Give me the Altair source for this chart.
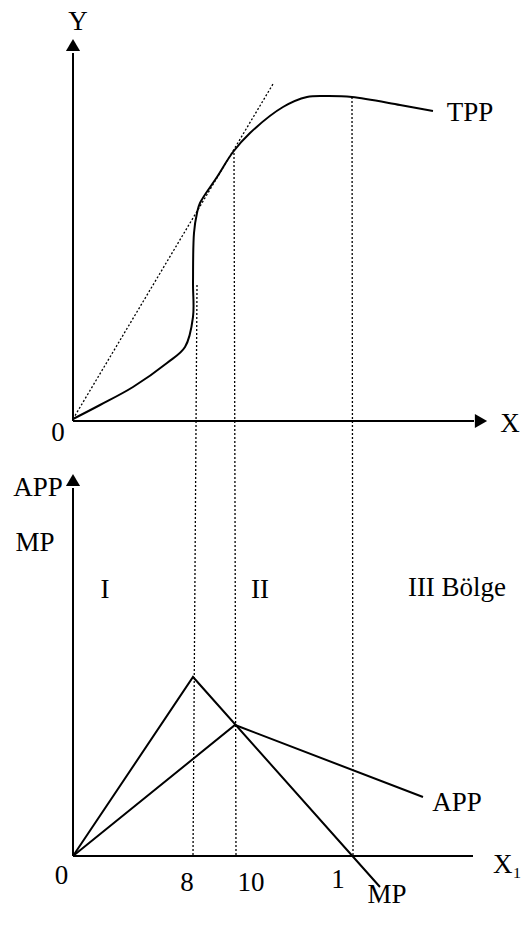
import altair as alt
import pandas as pd

FONT = "Times New Roman, Liberation Serif, serif"
FS = 27

# ---------- data (units: 1 unit = 10 px of the drawing) ----------
# top panel: TPP curve
tpp_x = [0, 2.7, 6.0, 9.4, 11.2, 12.0, 12.0, 12.1, 12.4, 12.7, 14.4, 16.0, 17.7, 21.0, 23.4, 25.4, 27.9, 32.7, 36.0]
tpp_y = [0.2, 1.6, 3.4, 5.8, 7.4, 10.4, 13.8, 18.8, 20.8, 21.8, 24.4, 26.9, 28.8, 31.4, 32.4, 32.5, 32.4, 31.6, 31.0]
# tangent ray from origin
ray_x = [0, 20.0]
ray_y = [0.2, 33.7]
# bottom panel: MP and APP
mp_x = [0, 12.0, 30.7]
mp_y = [0, 17.9, -3.1]
app_x = [0, 16.2, 35.0]
app_y = [0, 13.1, 5.9]
# dotted region boundaries (top point in TPP panel, bottom point on lower axis)
v_xtop = [12.4, 16.1, 27.9]
v_ytop = [13.6, 26.8, 32.4]
v_xbot = [12.0, 16.3, 28.0]
# tick labels of lower panel
tick_lbl = ["8", "10", "1"]
tick_x = [11.4, 17.8, 26.5]
tick_y = [-2.7, -2.7, -2.4]

PANEL_OFF = -43.5  # vertical offset of the lower panel

TOP = 10
W, H = 514, 895
xs = alt.Scale(domain=[-6.5, 44.9], nice=False, zero=False)
ys = alt.Scale(domain=[(421 - 8 - TOP - H) / 10, (421 - 8 - TOP) / 10], nice=False, zero=False)


def X(f="x"):
    return alt.X(f"{f}:Q", scale=xs, axis=None)


def Y(f="y"):
    return alt.Y(f"{f}:Q", scale=ys, axis=None)


layers = []

# TPP curve
tpp_df = pd.DataFrame({"x": tpp_x, "y": tpp_y, "i": range(len(tpp_x))})
layers.append(alt.Chart(tpp_df).mark_line(color="black", strokeWidth=2, interpolate="catmull-rom").encode(
    x=X(), y=Y(), order="i:Q"))

# tangent ray
ray_df = pd.DataFrame({"x": [ray_x[0]], "y": [ray_y[0]], "x2": [ray_x[1]], "y2": [ray_y[1]]})
layers.append(alt.Chart(ray_df).mark_rule(color="black", strokeWidth=1.3, strokeDash=[2, 2]).encode(
    x=X(), y=Y(), x2="x2:Q", y2="y2:Q"))

# dotted verticals
v_df = pd.DataFrame({"x": v_xtop, "y": v_ytop, "x2": v_xbot, "y2": [PANEL_OFF] * 3})
layers.append(alt.Chart(v_df).mark_rule(color="black", strokeWidth=1.3, strokeDash=[2, 2]).encode(
    x=X(), y=Y(), x2="x2:Q", y2="y2:Q"))

# MP / APP lines (lower panel)
low_df = pd.DataFrame({
    "x": mp_x + app_x,
    "yb": mp_y + app_y,
    "s": ["MP"] * 3 + ["APP"] * 3,
    "i": list(range(3)) * 2,
})
layers.append(alt.Chart(low_df).transform_calculate(y=f"datum.yb + ({PANEL_OFF})").mark_line(
    color="black", strokeWidth=2).encode(x=X(), y=Y(), detail="s:N", order="i:Q"))

# axes
ax_df = pd.DataFrame({
    "x": [0, 0, 0, 0],
    "y": [0, 0, PANEL_OFF, PANEL_OFF],
    "x2": [0, 40.1, 0, 40.0],
    "y2": [36.8, 0, 36.8 + PANEL_OFF, PANEL_OFF],
})
layers.append(alt.Chart(ax_df).mark_rule(color="black", strokeWidth=2).encode(
    x=X(), y=Y(), x2="x2:Q", y2="y2:Q"))

arr_df = pd.DataFrame({
    "x": [0, 40.8, 0],
    "y": [37.6, 0, 37.6 + PANEL_OFF],
    "shape": ["triangle-up", "triangle-right", "triangle-up"],
})
layers.append(alt.Chart(arr_df).mark_point(filled=True, color="black", opacity=1, size=200).encode(
    x=X(), y=Y(), shape=alt.Shape("shape:N", scale=None)))

# texts
txt = pd.DataFrame({
    "x": [0.5, 43.7, -1.5, 39.7,
          -3.5, -3.8, 3.2, 18.7, 38.4, 38.4, 31.4, -1.15] + tick_x,
    "y": [39.9, -0.3, -1.2, 30.8,
          36.8 + PANEL_OFF, 31.3 + PANEL_OFF, 26.6 + PANEL_OFF, 26.6 + PANEL_OFF, 26.8 + PANEL_OFF,
          5.3 + PANEL_OFF, -3.9 + PANEL_OFF, -2.0 + PANEL_OFF] + [v + PANEL_OFF for v in tick_y],
    "t": ["Y", "X", "0", "TPP",
          "APP", "MP", "I", "II", "III Bölge", "APP", "MP", "0"] + tick_lbl,
})
layers.append(alt.Chart(txt).mark_text(font=FONT, fontSize=FS, color="black", align="center", baseline="middle").encode(
    x=X(), y=Y(), text="t:N"))

x1 = pd.DataFrame({"x": [42.0], "y": [-0.9 + PANEL_OFF], "t": ["X₁"]})
layers.append(alt.Chart(x1).mark_text(font=FONT, fontSize=FS, color="black", align="left", baseline="middle").encode(
    x=X(), y=Y(), text="t:N"))

chart = alt.layer(*layers).properties(
    width=W, height=H, padding={"top": TOP, "left": 0, "right": 0, "bottom": 0},
    autosize=alt.AutoSizeParams(type="none")
).configure_view(stroke=None)

chart.save("out.html", embed_options={"renderer": "svg", "actions": False})
